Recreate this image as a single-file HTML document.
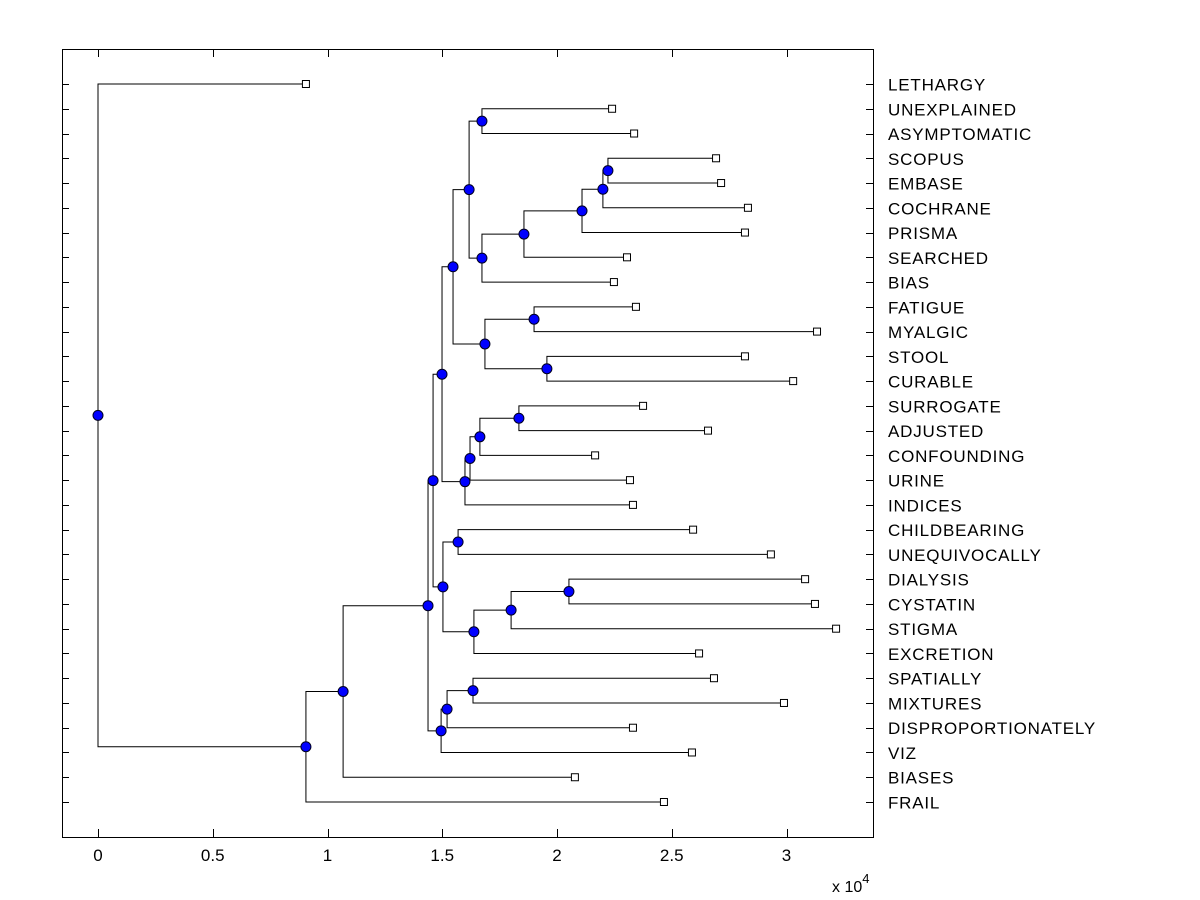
<!DOCTYPE html>
<html><head><meta charset="utf-8">
<style>
html,body{margin:0;padding:0;background:#fff;}
svg{display:block;font-family:"Liberation Sans",sans-serif;}
</style></head>
<body>
<svg id="chart" width="1200" height="900"></svg>
<script>
const leafNames = ["LETHARGY","UNEXPLAINED","ASYMPTOMATIC","SCOPUS","EMBASE","COCHRANE","PRISMA","SEARCHED","BIAS","FATIGUE","MYALGIC","STOOL","CURABLE","SURROGATE","ADJUSTED","CONFOUNDING","URINE","INDICES","CHILDBEARING","UNEQUIVOCALLY","DIALYSIS","CYSTATIN","STIGMA","EXCRETION","SPATIALLY","MIXTURES","DISPROPORTIONATELY","VIZ","BIASES","FRAIL"];
const leafValues = [0.906,2.24,2.336,2.693,2.715,2.832,2.819,2.305,2.248,2.344,3.133,2.819,3.029,2.375,2.658,2.166,2.318,2.331,2.593,2.932,3.081,3.124,3.216,2.619,2.684,2.989,2.331,2.588,2.078,2.466];
// internal nodes: id, child A, child B, value (x 10^4)
const nodeIds    = ["R","M","N_R","N_Q","N_P","N_O","N_N","N_K","N_S","N_T","N_L","N_H","N_W","N_V","N_U","N_J","N_F","N_X","N_AA","N_Z","N_Y","N_G","N_D","N_AC","N_AB","N_E","N_C","N_B","N_A","ROOT"];
const nodeChildA = ["UNEXPLAINED","","SCOPUS","N_R","N_Q","N_P","N_O","R","FATIGUE","STOOL","N_S","N_K","SURROGATE","N_W","N_V","N_U","N_H","CHILDBEARING","DIALYSIS","N_AA","N_Z","N_X","N_F","SPATIALLY","N_AC","N_AB","N_D","N_C","N_B","LETHARGY"];
const nodeChildB = ["ASYMPTOMATIC","","EMBASE","COCHRANE","PRISMA","SEARCHED","BIAS","N_N","MYALGIC","CURABLE","N_T","N_L","ADJUSTED","CONFOUNDING","URINE","INDICES","N_J","UNEQUIVOCALLY","CYSTATIN","STIGMA","EXCRETION","N_Y","N_G","MIXTURES","DISPROPORTIONATELY","VIZ","N_E","BIASES","FRAIL","N_A"];
const nodeValues = [1.673,0,2.222,2.2,2.109,1.856,1.673,1.617,1.9,1.956,1.686,1.547,1.834,1.664,1.621,1.599,1.499,1.569,2.052,1.8,1.638,1.503,1.46,1.634,1.521,1.495,1.438,1.068,0.906,0];
const xTicks = [0,0.5,1,1.5,2,2.5,3];

const NS="http://www.w3.org/2000/svg";
const svg=document.getElementById('chart');
const L=62,R=873,T=49,B=837;
const xs=v=>98+v*229.5;
const ys=i=>84+i*(802-84)/29;
function mk(tag,attrs,parent){const e=document.createElementNS(NS,tag);for(const k in attrs)e.setAttribute(k,attrs[k]);(parent||svg).appendChild(e);return e;}

const frame=mk('rect',{x:L+0.5,y:T+0.5,width:R-L,height:B-T,fill:'#fff',stroke:'#000','stroke-width':1});



leafNames.forEach((n,i)=>{
  const y=Math.round(ys(i))+0.5;
  const t=mk('line',{x1:L,x2:L+7,y1:y,y2:y,stroke:'#000'});
  
  
  const t2=mk('line',{x1:R-7,x2:R,y1:y,y2:y,stroke:'#000'});
  
  
  const lb=mk('text',{x:888,y:ys(i)+6.5,'font-size':17,'letter-spacing':0.8,fill:'#000'});
  lb.textContent=n;
  
  
});
xTicks.forEach(v=>{
  const x=Math.round(xs(v))+0.5;
  const t=mk('line',{x1:x,x2:x,y1:B-8,y2:B,stroke:'#000'});
  
  
  const t2=mk('line',{x1:x,x2:x,y1:T,y2:T+8,stroke:'#000'});
  
  
  const lb=mk('text',{x:xs(v),y:861,'font-size':17,'text-anchor':'middle'});
  lb.textContent=String(v);
  
  
});
const ex=mk('text',{x:832,y:892,'font-size':16});
ex.innerHTML='x 10<tspan dy="-9" font-size="13">4</tspan>';



const pos={};
leafNames.forEach((n,i)=>{pos[n]={x:xs(leafValues[i]),y:ys(i),leaf:true};});
const lines=mk('g',{});


const nodes=[];
nodeIds.forEach((id,k)=>{
  if(!nodeChildA[k]) return;
  const a=pos[nodeChildA[k]],b=pos[nodeChildB[k]];
  const x=xs(nodeValues[k]);
  const y=(a.y+b.y)/2;
  pos[id]={x,y};
  const p=mk('path',{d:`M${a.x},${a.y}H${x}V${b.y}H${b.x}`,fill:'none',stroke:'#000','stroke-width':1},lines);
  
  
  nodes.push([x,y]);
});
leafNames.forEach(n=>{
  const p=pos[n];
  const s=mk('rect',{x:p.x-3.5,y:p.y-3.5,width:7,height:7,fill:'#fff',stroke:'#000'});
  
  
});
nodes.forEach(([x,y])=>{
  const c=mk('circle',{cx:x,cy:y,r:5,fill:'#0000ff',stroke:'#000020','stroke-width':1});
  
  
});
</script>
</body></html>
